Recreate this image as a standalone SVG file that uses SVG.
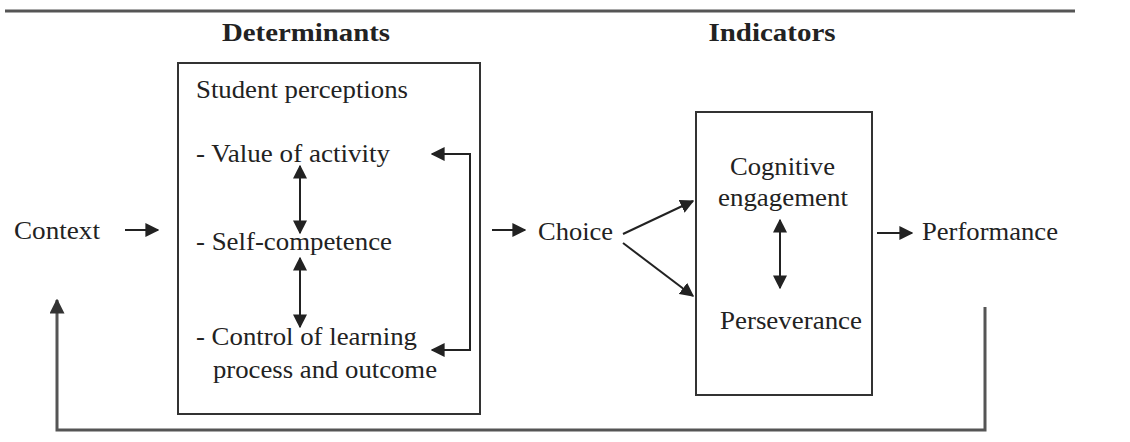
<svg xmlns="http://www.w3.org/2000/svg" width="1130" height="442" viewBox="0 0 1130 442">
<style>
text{font-family:"Liberation Serif","Times New Roman",serif;fill:#222;font-size:26px}
.h{font-weight:bold;font-size:26px}
.box{fill:none;stroke:#333;stroke-width:2}
.ln{fill:none;stroke:#222;stroke-width:2}
.fb{fill:none;stroke:#555;stroke-width:3}
</style>
<defs>
<marker id="ah" viewBox="0 0 10 10" refX="9" refY="5" markerWidth="14" markerHeight="14" markerUnits="userSpaceOnUse" orient="auto-start-reverse">
<path d="M0,0 L10,5 L0,10 z" fill="#222"/>
</marker>
<marker id="ahg" viewBox="0 0 10 10" refX="9" refY="5" markerWidth="5" markerHeight="5" orient="auto">
<path d="M0,0 L10,5 L0,10 z" fill="#333"/>
</marker>
</defs>
<rect width="1130" height="442" fill="#fff"/>
<line x1="5" y1="11" x2="1075" y2="11" stroke="#555" stroke-width="3"/>
<g id="headings">
<text class="h" x="306" y="41" text-anchor="middle" textLength="168" lengthAdjust="spacingAndGlyphs">Determinants</text>
<text class="h" x="772" y="41" text-anchor="middle" textLength="127" lengthAdjust="spacingAndGlyphs">Indicators</text>
</g>
<g id="context"><text x="14" y="239" textLength="86" lengthAdjust="spacingAndGlyphs">Context</text></g>
<g id="determinants">
<rect class="box" x="178" y="63" width="302" height="351"/>
<text x="196" y="98" textLength="212" lengthAdjust="spacingAndGlyphs">Student perceptions</text>
<text x="196" y="162" textLength="194" lengthAdjust="spacingAndGlyphs">- Value of activity</text>
<text x="196" y="250" textLength="196" lengthAdjust="spacingAndGlyphs">- Self-competence</text>
<text x="196" y="345" textLength="221" lengthAdjust="spacingAndGlyphs">- Control of learning</text>
<text x="213" y="378" textLength="224" lengthAdjust="spacingAndGlyphs">process and outcome</text>
</g>
<g id="choice"><text x="538" y="240" textLength="75" lengthAdjust="spacingAndGlyphs">Choice</text></g>
<g id="indicators">
<rect class="box" x="696" y="112" width="176" height="283"/>
<text x="730" y="175" textLength="105" lengthAdjust="spacingAndGlyphs">Cognitive</text>
<text x="718" y="206" textLength="130" lengthAdjust="spacingAndGlyphs">engagement</text>
<text x="720" y="329" textLength="142" lengthAdjust="spacingAndGlyphs">Perseverance</text>
</g>
<g id="performance"><text x="922" y="240" textLength="136" lengthAdjust="spacingAndGlyphs">Performance</text></g>
<g id="connectors">
<line class="ln" x1="125" y1="230" x2="158" y2="230" marker-end="url(#ah)"/>
<line class="ln" x1="300" y1="166" x2="300" y2="233" marker-start="url(#ah)" marker-end="url(#ah)"/>
<line class="ln" x1="300" y1="258" x2="300" y2="327" marker-start="url(#ah)" marker-end="url(#ah)"/>
<path class="ln" d="M432,154 H470 V350 H432" marker-start="url(#ah)" marker-end="url(#ah)"/>
<line class="ln" x1="492" y1="230" x2="525" y2="230" marker-end="url(#ah)"/>
<line class="ln" x1="623" y1="234" x2="693" y2="201" marker-end="url(#ah)"/>
<line class="ln" x1="623" y1="243" x2="693" y2="296" marker-end="url(#ah)"/>
<line class="ln" x1="780" y1="220" x2="780" y2="288" marker-start="url(#ah)" marker-end="url(#ah)"/>
<line class="ln" x1="877" y1="233" x2="912" y2="233" marker-end="url(#ah)"/>
<path class="fb" d="M985,307 V430 H57 V300" marker-end="url(#ahg)"/>
</g>
</svg>
